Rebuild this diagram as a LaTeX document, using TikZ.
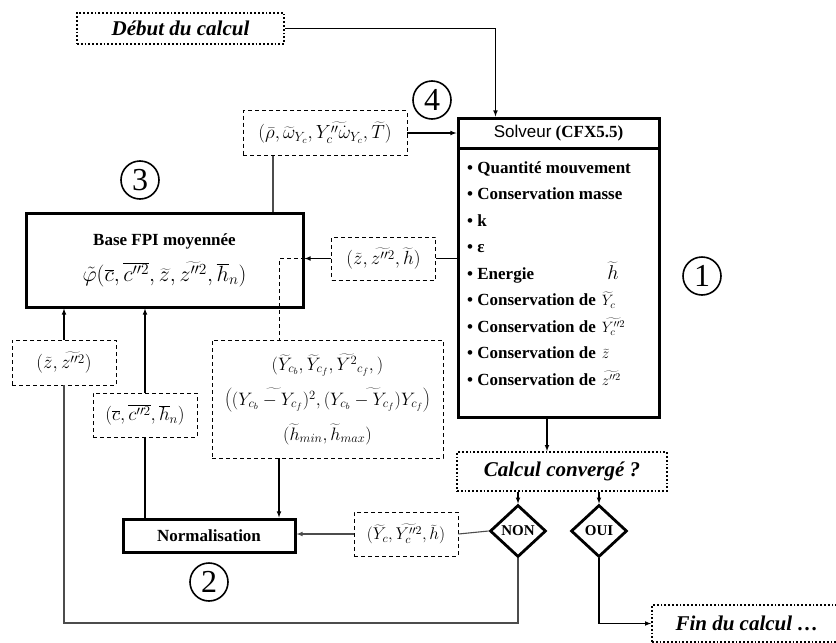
\RequirePackage{fix-cm}
\documentclass[tikz,border=0pt]{standalone}
\usepackage[no-math]{fontspec}
\setmainfont{Liberation Serif}
\setsansfont{Liberation Sans}
\usetikzlibrary{shapes.geometric}

\tikzset{
  etape/.style={draw, line width=3pt, inner sep=0pt, font=\bfseries\fontsize{17}{20}\selectfont},
  donnee/.style={draw, line width=0.9pt, dash pattern=on 4pt off 3pt, inner sep=0pt, font=\fontsize{19}{22}\selectfont},
  terminal/.style={draw, dotted, line width=1.8pt, inner sep=0pt, font=\bfseries\itshape\fontsize{21}{25}\selectfont},
  test/.style={diamond, draw, line width=2.8pt, inner sep=0pt, minimum width=56pt, minimum height=52pt, font=\bfseries\fontsize{15}{18}\selectfont},
  numero/.style={circle, draw, line width=1.6pt, minimum size=38pt, inner sep=0pt, font=\fontsize{32}{32}\selectfont},
  fleche/.style={-latex, line width=1.1pt},
  trait/.style={line width=1.1pt},
}

\begin{document}
\begin{tikzpicture}[x=1pt, y=-1pt]
  \useasboundingbox (0,0) rectangle (836,643);

  % debut et fin
  \node[terminal, minimum width=207pt, minimum height=31pt] (debut) at (180.5,28.5) {Début du calcul};
  \node[terminal, minimum width=190pt, minimum height=37pt] (fin) at (747,623.5) {Fin du calcul …};

  % solveur
  \node[etape, minimum width=201pt, minimum height=30pt, font=\fontsize{17}{20}\selectfont] (solveurtete) at (558.5,133) {{\sffamily Solveur} \textbf{(CFX5.5)}};
  \node[etape, minimum width=201pt, minimum height=269pt] (solveur) at (558.5,282.5) {};
  \node[anchor=north west, inner sep=0pt, font=\bfseries\fontsize{17}{26.5}\selectfont] (liste) at (467,154.5) {%
    \begin{tabular}{@{}l@{\hspace{6pt}}l@{}}
      \multicolumn{2}{@{}l@{}}{\textbullet\ Quantité mouvement}\\
      \multicolumn{2}{@{}l@{}}{\textbullet\ Conservation masse}\\
      \multicolumn{2}{@{}l@{}}{\textbullet\ k}\\
      \multicolumn{2}{@{}l@{}}{\textbullet\ ε}\\
      \textbullet\ Energie & \smash{\fontsize{20}{24}\selectfont$\;\widetilde{h}$}\\
      \textbullet\ Conservation de & \smash{\fontsize{15}{18}\selectfont$\widetilde{Y}_c$}\\
      \textbullet\ Conservation de & \smash{\fontsize{15}{18}\selectfont$\widetilde{Y_c^{\prime\prime2}}$}\\
      \textbullet\ Conservation de & \smash{\fontsize{15}{18}\selectfont$\widetilde{z}$}\\
      \textbullet\ Conservation de & \smash{\fontsize{15}{18}\selectfont$\widetilde{z^{\prime\prime2}}$}\\
    \end{tabular}};

  % base FPI et normalisation
  \node[etape, minimum width=277pt, minimum height=94pt, align=center] (fpi) at (164.5,260)
    {Base FPI moyennée\\[12pt]{\fontsize{22}{26}\selectfont$\tilde{\varphi}(\overline{c},\overline{c^{\prime\prime2}},\widetilde{z},\widetilde{z^{\prime\prime2}},\overline{h}_n)$}};
  \node[etape, minimum width=172pt, minimum height=33pt] (norm) at (209,535.5) {Normalisation};

  % donnees echangees
  \node[donnee, minimum width=164pt, minimum height=45pt] (rho) at (325,133)
    {$(\bar{\rho},\widetilde{\omega}_{Y_c},\widetilde{Y_c^{\prime\prime}\dot{\omega}_{Y_c}},\widetilde{T})$};
  \node[donnee, minimum width=104pt, minimum height=43pt] (zh) at (383.5,258.5)
    {$(\widetilde{z},\widetilde{z^{\prime\prime2}},\widetilde{h})$};
  \node[donnee, minimum width=104pt, minimum height=45pt] (zz) at (64,362.5)
    {$(\widetilde{z},\widetilde{z^{\prime\prime2}})$};
  \node[donnee, minimum width=104pt, minimum height=44pt] (ch) at (145,415)
    {$(\overline{c},\overline{c^{\prime\prime2}},\overline{h}_n)$};
  \node[donnee, minimum width=104pt, minimum height=44pt, font=\fontsize{17}{20}\selectfont] (yc) at (406,534)
    {$(\widetilde{Y}_c,\widetilde{Y_c^{\prime\prime2}},\widetilde{h})$};
  \node[donnee, minimum width=231pt, minimum height=118pt, align=center, font=\fontsize{18}{35}\selectfont] (params) at (327.5,399)
    {$\Big(\widetilde{Y}_{c_b},\widetilde{Y}_{c_f},\widetilde{Y^2}_{c_f},\Big)$\\
     $\Bigg(\widetilde{(Y_{c_b}-Y_{c_f})^2},\widetilde{(Y_{c_b}-Y_{c_f})Y_{c_f}}\Bigg)$\\
     $\Big(\widetilde{h}_{min},\widetilde{h}_{max}\Big)$};

  % test de convergence
  \node[terminal, minimum width=210pt, minimum height=39pt] (conv) at (562,471.5) {Calcul convergé ?};
  \node[test] (non) at (518,531) {NON};
  \node[test] (oui) at (599,531) {OUI};

  % numeros
  \node[numero] (n1) at (702,276) {1};
  \node[numero] (n2) at (209,582) {2};
  \node[numero] (n3) at (140,180) {3};
  \node[numero] (n4) at (432,100) {4};

  % liaisons
  \coordinate (bas) at (0,623);
  \coordinate (relais) at (279,258.5);
  \draw[fleche] (debut.east) -| ([xshift=39pt]solveurtete.north west);
  \draw[fleche] (rho.east) -- (solveurtete.west);
  \draw[trait, black!70] ([xshift=108.5pt]fpi.north) -- ([xshift=108.5pt]fpi.north |- rho.south);
  \draw[trait] (solveur.west |- zh.east) -- (zh.east);
  \draw[fleche] (zh.west) -- (fpi.east |- zh.west);
  \draw[line width=0.9pt, dash pattern=on 4pt off 3pt] (fpi.east |- relais) -- (relais) -- (relais |- params.north);
  \draw[fleche] (relais |- params.south) -- (relais |- norm.north);
  \draw[fleche] (zz.north) -- (zz.north |- fpi.south);
  \draw[fleche] (ch.north) -- (ch.north |- fpi.south);
  \draw[trait] (ch.south |- norm.north) -- (ch.south);
  \draw[fleche] ([xshift=-11.5pt]solveur.south) -- ([xshift=-11.5pt]solveur.south |- conv.north);
  \draw[fleche] (conv.south -| non.north) -- (non.north);
  \draw[fleche] (conv.south -| oui.north) -- (oui.north);
  \draw[trait, black!70] (non.west) -- (yc.east);
  \draw[fleche, black!70] (yc.west) -- (yc.west -| norm.east);
  \draw[trait, black!70] (non.south) -- (non.south |- bas) -| (zz.south);
  \draw[fleche] (oui.south) |- (fin.west);
\end{tikzpicture}
\end{document}
